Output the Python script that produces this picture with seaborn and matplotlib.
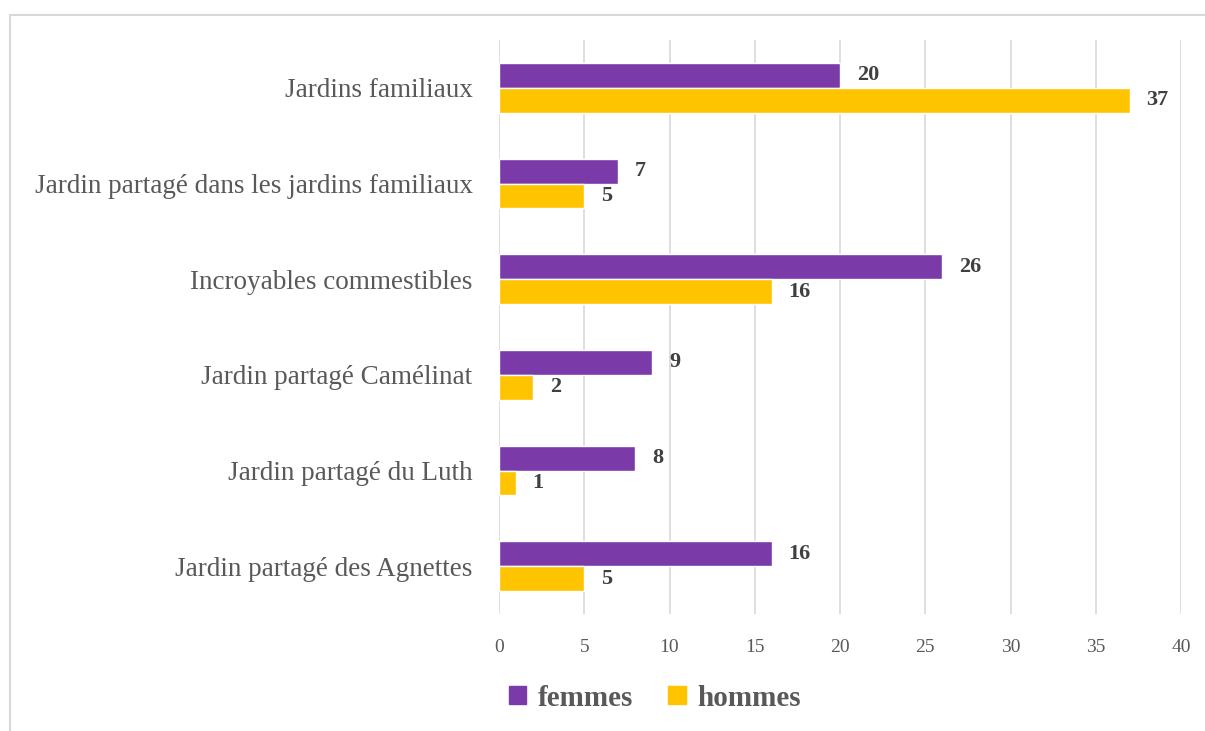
import matplotlib
matplotlib.use("Agg")
import matplotlib.pyplot as plt
import seaborn as sns
import pandas as pd
from matplotlib.patches import Rectangle, Patch

categories = [
    "Jardins familiaux",
    "Jardin partagé dans les jardins familiaux",
    "Incroyables commestibles",
    "Jardin partagé Camélinat",
    "Jardin partagé du Luth",
    "Jardin partagé des Agnettes",
]
femmes = [20, 7, 26, 9, 8, 16]
hommes = [37, 5, 16, 2, 1, 5]
series = ["femmes", "hommes"]
colors = {"femmes": "#7A3AA8", "hommes": "#FFC400"}

df = pd.DataFrame({
    "cat": categories * 2,
    "val": femmes + hommes,
    "sexe": ["femmes"] * len(categories) + ["hommes"] * len(categories),
})

sns.set_theme(style="white")
plt.rcParams["font.family"] = ["Liberation Serif", "DejaVu Serif"]

fig = plt.figure(figsize=(12.05, 7.31), dpi=100)
W, H = 1205, 731
ax = fig.add_axes([499 / W, 1 - 614 / H, (1181 - 499) / W, (614 - 40) / H])

sns.barplot(data=df, y="cat", x="val", hue="sexe", order=categories,
            hue_order=series, palette=colors, orient="h", width=0.52,
            ax=ax, legend=False, saturation=1)

ax.set_xlim(0, 40)
ax.set_xticks(range(0, 41, 5))
ax.grid(axis="x", color="#D9D9D9", linewidth=1.2)
ax.set_axisbelow(True)
for s in ax.spines.values():
    s.set_visible(False)
ax.set_xlabel("")
ax.set_ylabel("")
ax.tick_params(axis="x", length=0, pad=18, labelsize=14, labelcolor="#595959")
ax.tick_params(axis="y", length=0, pad=19, labelsize=19.5, labelcolor="#595959")

for cont in ax.containers:
    ax.bar_label(cont, padding=12, fontsize=16, fontweight="bold", color="#404040")

handles = [Patch(color=colors[s], label=s) for s in series]
leg = fig.legend(handles=handles, loc="center", bbox_to_anchor=(655 / W, 1 - 698 / H),
                 ncol=2, frameon=False, prop={"size": 21, "weight": "bold"},
                 handlelength=0.6, handleheight=0.6, handletextpad=0.4, columnspacing=1.2)
for t in leg.get_texts():
    t.set_color("#595959")

fig.patches.append(Rectangle((10 / W, -0.05), 1.1, 1 - 15 / H + 0.05,
                             transform=fig.transFigure, fill=False,
                             edgecolor="#D9D9D9", linewidth=1.5))

fig.savefig("out.png", dpi=100)
